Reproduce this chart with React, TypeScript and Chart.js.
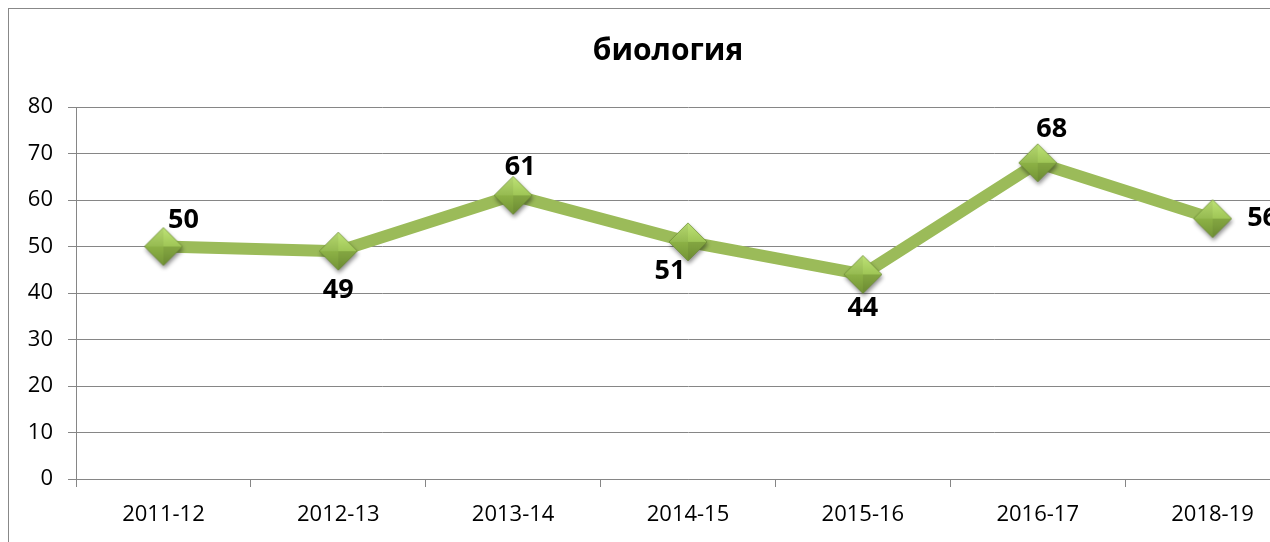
import React, { useEffect, useRef } from "react";
import { Chart, registerables } from "chart.js";

Chart.register(...registerables);

const chartTitle = "биология";
const categories = ["2011-12", "2012-13", "2013-14", "2014-15", "2015-16", "2016-17", "2018-19"];
const values = [50, 49, 61, 51, 44, 68, 56];
const yMin = 0;
const yMax = 80;
const yStep = 10;
// label placement relative to each point (dx, dy in px)
const labelOffsets: [number, number][] = [
  [20, -26],
  [0, 39],
  [7, -28],
  [-18, 29],
  [0, 34],
  [14, -33],
  [50, 0],
];

const CANVAS_W = 1330;
const CANVAS_H = 545;
const AREA = { left: 67, top: 98, right: 1291, bottom: 470 };
const X_AXIS_H = 60;

function makeDiamond(): HTMLCanvasElement {
  const c = document.createElement("canvas");
  const s = 54;
  c.width = s;
  c.height = s;
  const ctx = c.getContext("2d")!;
  const cx = s / 2;
  const cy = s / 2;
  const r = 19;
  ctx.save();
  ctx.shadowColor = "rgba(0,0,0,0.45)";
  ctx.shadowBlur = 4;
  ctx.shadowOffsetX = 1;
  ctx.shadowOffsetY = 3;
  ctx.beginPath();
  ctx.moveTo(cx, cy - r);
  ctx.lineTo(cx + r, cy);
  ctx.lineTo(cx, cy + r);
  ctx.lineTo(cx - r, cy);
  ctx.closePath();
  ctx.fillStyle = "#8fb24c";
  ctx.fill();
  ctx.restore();
  const tri = (pts: number[][], color: string | CanvasGradient) => {
    ctx.beginPath();
    ctx.moveTo(pts[0][0], pts[0][1]);
    ctx.lineTo(pts[1][0], pts[1][1]);
    ctx.lineTo(pts[2][0], pts[2][1]);
    ctx.closePath();
    ctx.fillStyle = color;
    ctx.fill();
  };
  const gTop = ctx.createLinearGradient(0, cy - r, 0, cy);
  gTop.addColorStop(0, "#bfe377");
  gTop.addColorStop(1, "#9fc656");
  const gBot = ctx.createLinearGradient(0, cy, 0, cy + r);
  gBot.addColorStop(0, "#8db246");
  gBot.addColorStop(1, "#739436");
  tri([[cx, cy - r], [cx + r, cy], [cx - r, cy]], gTop);
  tri([[cx, cy + r], [cx + r, cy], [cx - r, cy]], gBot);
  tri([[cx, cy - r], [cx, cy], [cx - r, cy]], "rgba(0,0,0,0.05)");
  tri([[cx, cy], [cx + r, cy], [cx, cy + r]], "rgba(0,0,0,0.06)");
  ctx.beginPath();
  ctx.moveTo(cx, cy - r);
  ctx.lineTo(cx + r, cy);
  ctx.lineTo(cx, cy + r);
  ctx.lineTo(cx - r, cy);
  ctx.closePath();
  ctx.strokeStyle = "rgba(90,120,40,0.5)";
  ctx.lineWidth = 1;
  ctx.stroke();
  return c;
}

export default function App() {
  const ref = useRef<HTMLCanvasElement | null>(null);

  useEffect(() => {
    if (!ref.current) return;
    const diamond = makeDiamond();

    const titlePlugin = {
      id: "customTitle",
      afterDraw(chart: any) {
        const ctx = chart.ctx;
        ctx.save();
        ctx.font = "bold 30px 'Open Sans', 'Noto Sans', sans-serif";
        ctx.fillStyle = "#000";
        ctx.textAlign = "center";
        ctx.textBaseline = "middle";
        ctx.fillText(chartTitle, 659, 42);
        ctx.restore();
      },
    };

    const labelPlugin = {
      id: "pointLabels",
      afterDatasetsDraw(chart: any) {
        const ctx = chart.ctx;
        const meta = chart.getDatasetMeta(0);
        ctx.save();
        ctx.font = "bold 27px 'Open Sans', 'Noto Sans', sans-serif";
        ctx.fillStyle = "#000";
        ctx.textAlign = "center";
        ctx.textBaseline = "middle";
        meta.data.forEach((pt: any, i: number) => {
          const [dx, dy] = labelOffsets[i];
          ctx.fillText(String(values[i]), pt.x + dx, pt.y + dy);
        });
        ctx.restore();
      },
    };

    const chart = new Chart(ref.current, {
      type: "line",
      data: {
        labels: categories,
        datasets: [
          {
            data: values,
            borderColor: "#9bbb59",
            borderWidth: 12,
            tension: 0,
            pointStyle: diamond as any,
            pointRadius: 19,
            pointHoverRadius: 19,
            clip: false as any,
          },
        ],
      },
      options: {
        responsive: false,
        animation: false,
        devicePixelRatio: 1,
        layout: {
          padding: {
            top: AREA.top,
            left: 0,
            right: CANVAS_W - AREA.right,
            bottom: CANVAS_H - AREA.bottom - X_AXIS_H,
          },
        },
        plugins: {
          legend: { display: false },
          title: { display: false },
          tooltip: { enabled: false },
        },
        scales: {
          x: {
            offset: true,
            grid: {
              offset: true,
              drawOnChartArea: false,
              drawTicks: true,
              tickLength: 8,
              color: "#868686",
              lineWidth: 1,
            },
            border: { display: true, color: "#868686", width: 1 },
            ticks: {
              color: "#000",
              font: { family: "'Open Sans', sans-serif", size: 22 },
              padding: 15,
              maxRotation: 0,
              autoSkip: false,
            },
            afterFit(scale: any) {
              scale.height = X_AXIS_H;
              scale.paddingLeft = 0;
              scale.paddingRight = 0;
            },
          },
          y: {
            min: yMin,
            max: yMax,
            grid: {
              color: "#868686",
              lineWidth: 1,
              drawTicks: true,
              tickLength: 8,
            },
            border: { display: true, color: "#868686", width: 1 },
            ticks: {
              stepSize: yStep,
              color: "#000",
              font: { family: "'Open Sans', sans-serif", size: 22 },
              padding: 15,
            },
            afterFit(scale: any) {
              scale.width = AREA.left;
              scale.paddingTop = 0;
              scale.paddingBottom = 0;
            },
          },
        },
      },
      plugins: [titlePlugin, labelPlugin],
    });
    return () => chart.destroy();
  }, []);

  return (
    <div
      style={{
        position: "fixed",
        left: 8,
        top: 8,
        width: 1262,
        height: 534,
        overflow: "hidden",
      }}
    >
      <div
        style={{
          border: "1px solid #888",
          width: CANVAS_W,
          height: CANVAS_H,
          background: "#fff",
        }}
      >
        <canvas
          ref={ref}
          width={CANVAS_W}
          height={CANVAS_H}
          style={{ display: "block", width: CANVAS_W, height: CANVAS_H }}
        />
      </div>
    </div>
  );
}
